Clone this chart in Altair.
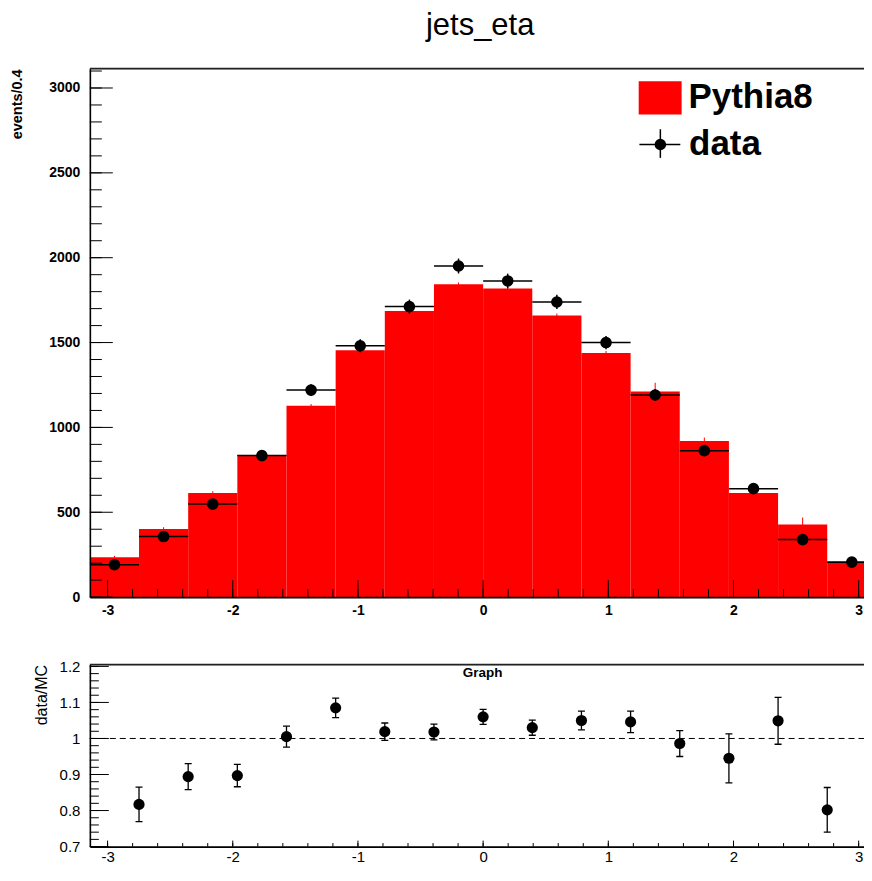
import altair as alt
import pandas as pd
import numpy as np

PI = np.pi
# 16 bins of width pi/8 between -pi and pi
edges = [round(-PI + k * PI / 8, 5) for k in range(17)]

mc_counts = [235, 402, 614, 838, 1128, 1455, 1686, 1844, 1818, 1659, 1438, 1212, 920, 614, 428, 212]
mc_err = [8, 10, 10, 12, 10, 12, 12, 10, 10, 12, 12, 51, 20, 8, 41, 10]
data_counts = [191, 357, 548, 834, 1220, 1481, 1712, 1951, 1863, 1739, 1500, 1191, 863, 639, 339, 206]
data_err = [14, 19, 23, 29, 35, 38, 41, 44, 43, 42, 39, 35, 29, 25, 18, 14]

ratio_vals = [0.817, 0.894, 0.897, 1.005, 1.085, 1.019, 1.018, 1.060, 1.030, 1.050, 1.046, 0.986, 0.945, 1.049, 0.802, 0.950]
ratio_err = [0.048, 0.036, 0.031, 0.029, 0.027, 0.024, 0.022, 0.021, 0.021, 0.026, 0.030, 0.036, 0.068, 0.065, 0.062, 0.050]

x_major = [-3, -2, -1, 0, 1, 2, 3]
x_minor = [round(-3 + 0.2 * i, 1) for i in range(31)]
y_major_top = [0, 500, 1000, 1500, 2000, 2500, 3000]
y_minor_top = list(range(0, 3200, 100))
y_major_bot = [0.7, 0.8, 0.9, 1.0, 1.1, 1.2]
y_minor_bot = [round(0.7 + 0.02 * i, 2) for i in range(26)]

W = 782.5
H1 = 529.4
H2 = 182.3
PX_PER_UNIT = 125.4
X_DOMAIN = [-PI, -PI + W / PX_PER_UNIT]
FONT = "Liberation Sans"

hist = pd.DataFrame({
    "lo": edges[:-1],
    "hi": edges[1:],
    "center": [(a + b) / 2 for a, b in zip(edges[:-1], edges[1:])],
    "mc": mc_counts,
    "mc_lo": [m - e for m, e in zip(mc_counts, mc_err)],
    "mc_hi": [m + e for m, e in zip(mc_counts, mc_err)],
    "data": data_counts,
    "d_lo": [d - e for d, e in zip(data_counts, data_err)],
    "d_hi": [d + e for d, e in zip(data_counts, data_err)],
})
ratio = pd.DataFrame({
    "x": edges[1:],
    "r": ratio_vals,
    "r_lo": [r - e for r, e in zip(ratio_vals, ratio_err)],
    "r_hi": [r + e for r, e in zip(ratio_vals, ratio_err)],
})
one = pd.DataFrame({"a": [0]})

xs = alt.Scale(domain=X_DOMAIN, nice=False, zero=False)
ys1 = alt.Scale(domain=[0, 3114], nice=False, zero=False)
ys2 = alt.Scale(domain=[0.7, 1.205], nice=False, zero=False)


def axis(values, size, weight, pad):
    return alt.Axis(values=values, labelExpr="'' + datum.value", ticks=False, grid=False,
                    domain=True, domainColor="black", domainWidth=1.6,
                    labelFont=FONT, labelFontSize=size, labelFontWeight=weight,
                    labelColor="black", labelPadding=pad, labelFlush=False,
                    labelOverlap=False, title=None, zindex=1)


AX_TX = axis(x_major, 14, "bold", 6)
AX_TY = axis(y_major_top, 14, "bold", 10)
AX_BX = axis(x_major, 15, "normal", 3)
AX_BY = axis(y_major_bot, 15, "normal", 10)


def tx(f):
    return alt.X(f, scale=xs, axis=AX_TX)


def ty(f):
    return alt.Y(f, scale=ys1, axis=AX_TY)


def bx(f):
    return alt.X(f, scale=xs, axis=AX_BX)


def by(f):
    return alt.Y(f, scale=ys2, axis=AX_BY)


# ---------------- top panel ----------------
extent_top = alt.Chart(one).mark_rule(color="white", strokeWidth=1).encode(
    x=alt.value(-81), x2=alt.value(-81), y=alt.value(-58.8), y2=alt.value(H1 + 26))

bars = alt.Chart(hist).mark_rect(color="#ff0000", clip=True).encode(
    x=tx("lo:Q"), x2="hi:Q", y=ty("mc:Q"), y2=alt.datum(0))
mc_errbars = alt.Chart(hist).mark_rule(color="#ff0000", strokeWidth=1, clip=True).encode(
    x=tx("center:Q"), y=ty("mc_lo:Q"), y2="mc_hi:Q")

xt_major = alt.Chart(pd.DataFrame({"t": x_major})).mark_rule(color="black", strokeWidth=1).encode(
    x=tx("t:Q"), y=alt.value(H1), y2=alt.value(H1 - 17))
xt_minor = alt.Chart(pd.DataFrame({"t": x_minor})).mark_rule(color="black", strokeWidth=1).encode(
    x=tx("t:Q"), y=alt.value(H1), y2=alt.value(H1 - 8))
yt_major = alt.Chart(pd.DataFrame({"t": y_major_top})).mark_rule(color="black", strokeWidth=1).encode(
    y=ty("t:Q"), x=alt.value(0), x2=alt.value(23))
yt_minor = alt.Chart(pd.DataFrame({"t": y_minor_top})).mark_rule(color="black", strokeWidth=1).encode(
    y=ty("t:Q"), x=alt.value(0), x2=alt.value(12))
frame_top = alt.Chart(one).mark_rule(color="#222222", strokeWidth=1.6).encode(
    x=alt.value(0), x2=alt.value(W), y=alt.value(0))

d_hor = alt.Chart(hist).mark_rule(color="black", strokeWidth=1.5, clip=True).encode(
    x=tx("lo:Q"), x2="hi:Q", y=ty("data:Q"))
d_ver = alt.Chart(hist).mark_rule(color="black", strokeWidth=1.5, clip=True).encode(
    x=tx("center:Q"), y=ty("d_lo:Q"), y2="d_hi:Q")
d_pts = alt.Chart(hist).mark_circle(color="black", size=135, opacity=1, clip=True).encode(
    x=tx("center:Q"), y=ty("data:Q"))

title = alt.Chart(one).mark_text(text="jets_eta", font=FONT, fontSize=31, color="black",
                                 align="center", baseline="top").encode(
    x=alt.value(391), y=alt.value(-57.5))
ytitle_top = alt.Chart(one).mark_text(text="events/0.4", font=FONT, fontSize=14.5, fontWeight="bold",
                                      color="black", angle=270, align="right", baseline="middle").encode(
    x=alt.value(-71.5), y=alt.value(0.7))

leg_box = alt.Chart(one).mark_rect(color="#ff0000").encode(
    x=alt.value(549.8), x2=alt.value(592.8), y=alt.value(12.7), y2=alt.value(46))
leg_text1 = alt.Chart(one).mark_text(text="Pythia8", font=FONT, fontSize=35, fontWeight="bold",
                                     color="black", align="left", baseline="alphabetic").encode(
    x=alt.value(599.7), y=alt.value(39.4))
leg_hline = alt.Chart(one).mark_rule(color="black", strokeWidth=1.5).encode(
    x=alt.value(550.5), x2=alt.value(591.5), y=alt.value(76))
leg_vline = alt.Chart(one).mark_rule(color="black", strokeWidth=1.5).encode(
    x=alt.value(571.5), y=alt.value(60.7), y2=alt.value(89.4))
leg_pt = alt.Chart(one).mark_circle(color="black", size=135, opacity=1).encode(
    x=alt.value(571.5), y=alt.value(76))
leg_text2 = alt.Chart(one).mark_text(text="data", font=FONT, fontSize=35, fontWeight="bold",
                                     color="black", align="left", baseline="alphabetic").encode(
    x=alt.value(600.3), y=alt.value(87))

top = alt.layer(
    extent_top, bars, mc_errbars, xt_major, xt_minor, yt_major, yt_minor, frame_top,
    d_hor, d_ver, d_pts, title, ytitle_top,
    leg_box, leg_text1, leg_hline, leg_vline, leg_pt, leg_text2,
).properties(width=W, height=H1)

# ---------------- bottom panel ----------------
extent_bot = alt.Chart(one).mark_rule(color="white", strokeWidth=1).encode(
    x=alt.value(-81), x2=alt.value(-81), y=alt.value(-16), y2=alt.value(H2 + 12))

unity = alt.Chart(pd.DataFrame({"v": [1.0]})).mark_rule(color="black", strokeWidth=1, strokeDash=[6, 4]).encode(
    y=by("v:Q"), x=alt.value(0), x2=alt.value(W))

r_err = alt.Chart(ratio).mark_rule(color="black", strokeWidth=1.3, clip=True).encode(
    x=bx("x:Q"), y=by("r_lo:Q"), y2="r_hi:Q")
r_cap_lo = alt.Chart(ratio).mark_tick(color="black", orient="horizontal", size=7, thickness=1.3,
                                      opacity=1, clip=True).encode(
    x=bx("x:Q"), y=by("r_lo:Q"))
r_cap_hi = alt.Chart(ratio).mark_tick(color="black", orient="horizontal", size=7, thickness=1.3,
                                      opacity=1, clip=True).encode(
    x=bx("x:Q"), y=by("r_hi:Q"))
r_pts = alt.Chart(ratio).mark_circle(color="black", size=125, opacity=1, clip=True).encode(
    x=bx("x:Q"), y=by("r:Q"))

bxt_major = alt.Chart(pd.DataFrame({"t": x_major})).mark_rule(color="black", strokeWidth=1).encode(
    x=bx("t:Q"), y=alt.value(H2), y2=alt.value(H2 - 6))
bxt_minor = alt.Chart(pd.DataFrame({"t": x_minor})).mark_rule(color="black", strokeWidth=1).encode(
    x=bx("t:Q"), y=alt.value(H2), y2=alt.value(H2 - 3.5))
byt_major = alt.Chart(pd.DataFrame({"t": y_major_bot})).mark_rule(color="black", strokeWidth=1).encode(
    y=by("t:Q"), x=alt.value(0), x2=alt.value(19))
byt_minor = alt.Chart(pd.DataFrame({"t": y_minor_bot})).mark_rule(color="black", strokeWidth=1).encode(
    y=by("t:Q"), x=alt.value(0), x2=alt.value(9))
bframe_top = alt.Chart(one).mark_rule(color="#222222", strokeWidth=1.6).encode(
    x=alt.value(0), x2=alt.value(W), y=alt.value(0))

graph_txt = alt.Chart(one).mark_text(text="Graph", font=FONT, fontSize=13.5, fontWeight="bold",
                                     color="black", align="center", baseline="middle").encode(
    x=alt.value(393.5), y=alt.value(8.3))
ytitle_bot = alt.Chart(one).mark_text(text="data/MC", font=FONT, fontSize=16, color="black",
                                      angle=270, align="right", baseline="middle").encode(
    x=alt.value(-48.2), y=alt.value(0.3))

bottom = alt.layer(
    extent_bot, unity, r_err, r_cap_lo, r_cap_hi, r_pts,
    bxt_major, bxt_minor, byt_major, byt_minor, bframe_top, graph_txt, ytitle_bot,
).properties(width=W, height=H2)

chart = alt.vconcat(top, bottom, spacing=23).properties(
    padding={"left": 0, "top": 0, "right": -9, "bottom": 0}, background="white"
).configure_view(stroke=None).configure(font=FONT)

chart.save("out.html", embed_options={"renderer": "svg", "actions": False})
